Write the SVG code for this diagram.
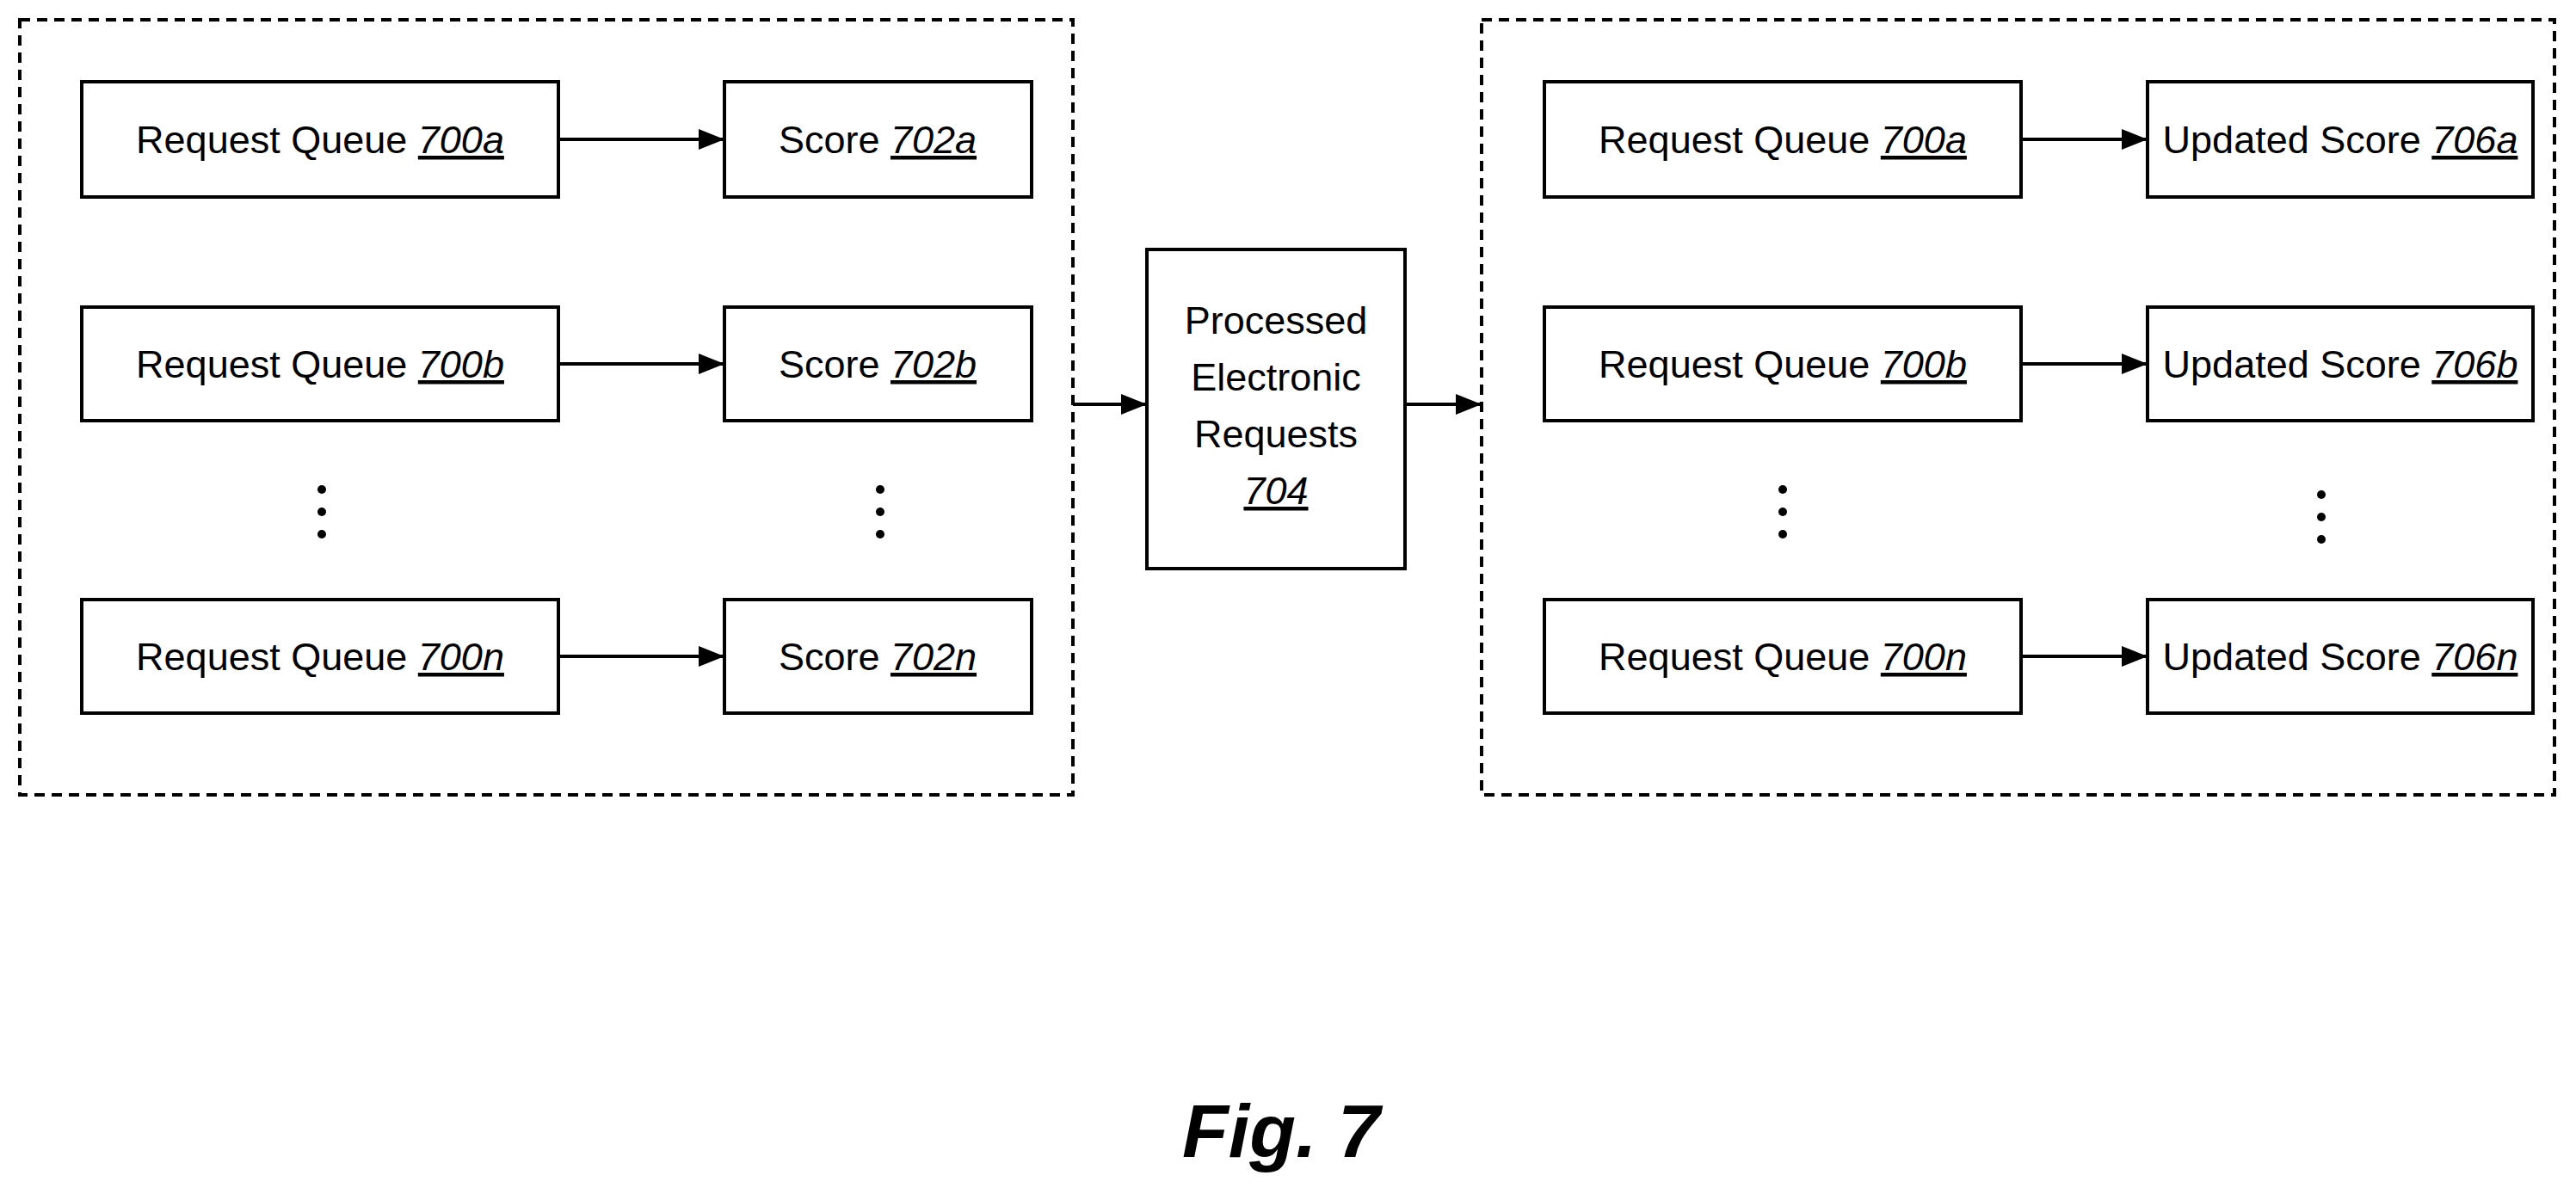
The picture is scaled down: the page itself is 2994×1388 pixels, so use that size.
<svg xmlns="http://www.w3.org/2000/svg" width="2994" height="1388" viewBox="0 0 2994 1388">
<style>
.b{fill:#fff;stroke:#000;stroke-width:4}
.d{fill:none;stroke:#000;stroke-width:4;stroke-dasharray:12 8}
.t{font-family:"Liberation Sans Narrow","Liberation Sans",Arial,sans-serif;font-size:45px;text-anchor:middle;fill:#000}
.u{font-style:italic;text-decoration:underline}
.c{stroke:#000;stroke-width:4;fill:none;marker-end:url(#a)}
.dot{fill:#000}
</style>
<defs><marker id="a" markerWidth="30" markerHeight="24" refX="30" refY="12" orient="auto" markerUnits="userSpaceOnUse" viewBox="0 0 30 24"><path d="M0,0L30,12L0,24z"/></marker></defs>
<rect x="0" y="0" width="2994" height="1388" fill="#fff"/>
<rect class="d" x="23" y="23" width="1224" height="901"/>
<rect class="d" x="1722" y="23" width="1247" height="901"/>
<g id="rq700a_l"><rect class="b" x="95" y="95" width="554" height="134"/><text class="t" x="372" y="178">Request Queue <tspan class="u">700a</tspan></text></g>
<g id="rq700b_l"><rect class="b" x="95" y="357" width="554" height="132"/><text class="t" x="372" y="439">Request Queue <tspan class="u">700b</tspan></text></g>
<g id="rq700n_l"><rect class="b" x="95" y="697" width="554" height="132"/><text class="t" x="372" y="779">Request Queue <tspan class="u">700n</tspan></text></g>
<g id="s702a"><rect class="b" x="842" y="95" width="357" height="134"/><text class="t" x="1020" y="178">Score <tspan class="u">702a</tspan></text></g>
<g id="s702b"><rect class="b" x="842" y="357" width="357" height="132"/><text class="t" x="1020" y="439">Score <tspan class="u">702b</tspan></text></g>
<g id="s702n"><rect class="b" x="842" y="697" width="357" height="132"/><text class="t" x="1020" y="779">Score <tspan class="u">702n</tspan></text></g>
<g id="p704"><rect class="b" x="1333" y="290" width="300" height="371"/><text class="t" x="1483" y="388">Processed</text><text class="t" x="1483" y="454">Electronic</text><text class="t" x="1483" y="520">Requests</text><text class="t u" x="1483" y="586">704</text></g>
<g id="rq700a_r"><rect class="b" x="1795" y="95" width="554" height="134"/><text class="t" x="2072" y="178">Request Queue <tspan class="u">700a</tspan></text></g>
<g id="rq700b_r"><rect class="b" x="1795" y="357" width="554" height="132"/><text class="t" x="2072" y="439">Request Queue <tspan class="u">700b</tspan></text></g>
<g id="rq700n_r"><rect class="b" x="1795" y="697" width="554" height="132"/><text class="t" x="2072" y="779">Request Queue <tspan class="u">700n</tspan></text></g>
<g id="u706a"><rect class="b" x="2496" y="95" width="448" height="134"/><text class="t" x="2720" y="178">Updated Score <tspan class="u">706a</tspan></text></g>
<g id="u706b"><rect class="b" x="2496" y="357" width="448" height="132"/><text class="t" x="2720" y="439">Updated Score <tspan class="u">706b</tspan></text></g>
<g id="u706n"><rect class="b" x="2496" y="697" width="448" height="132"/><text class="t" x="2720" y="779">Updated Score <tspan class="u">706n</tspan></text></g>
<g id="dots">
<circle class="dot" cx="374" cy="569" r="5"/><circle class="dot" cx="374" cy="595" r="5"/><circle class="dot" cx="374" cy="621" r="5"/>
<circle class="dot" cx="1023" cy="569" r="5"/><circle class="dot" cx="1023" cy="595" r="5"/><circle class="dot" cx="1023" cy="621" r="5"/>
<circle class="dot" cx="2072" cy="569" r="5"/><circle class="dot" cx="2072" cy="595" r="5"/><circle class="dot" cx="2072" cy="621" r="5"/>
<circle class="dot" cx="2698" cy="575" r="5"/><circle class="dot" cx="2698" cy="601" r="5"/><circle class="dot" cx="2698" cy="627" r="5"/>
</g>
<g id="connectors">
<path class="c" d="M649,162H842"/><path class="c" d="M649,423H842"/><path class="c" d="M649,763H842"/>
<path class="c" d="M1247,470H1333"/><path class="c" d="M1633,470H1722"/>
<path class="c" d="M2349,162H2496"/><path class="c" d="M2349,423H2496"/><path class="c" d="M2349,763H2496"/>
</g>
<text x="1489" y="1345" style="font-family:'Liberation Sans',Arial,sans-serif;font-size:88px;font-weight:bold;font-style:italic;text-anchor:middle">Fig. 7</text>
</svg>
